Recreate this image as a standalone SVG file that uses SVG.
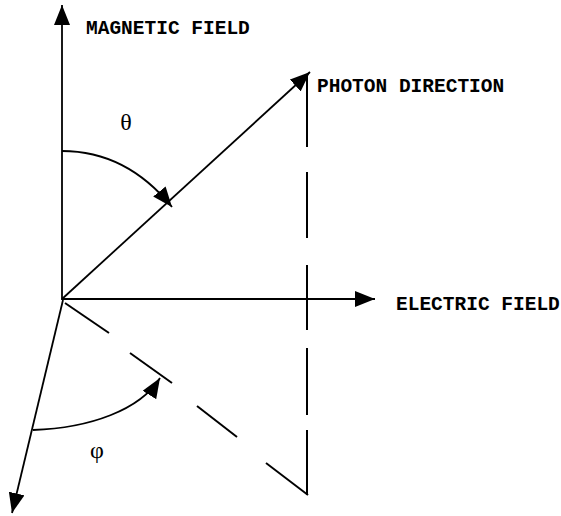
<svg xmlns="http://www.w3.org/2000/svg" width="561" height="516" viewBox="0 0 561 516">
<style>
.ln{stroke:#000;stroke-width:1.8;fill:none}
.ds{stroke:#000;stroke-width:2;fill:none}
.lbl{font-family:"Liberation Mono","Courier New",monospace;font-weight:bold;font-size:19.5px;fill:#000}
.gr{font-family:"Liberation Serif","Times New Roman",serif;font-size:24px;fill:#000}
</style>
<defs>
<marker id="ah" markerUnits="userSpaceOnUse" viewBox="0 0 20 16" refX="20" refY="8" markerWidth="20" markerHeight="16" orient="auto">
<path d="M0,0 L20,8 L0,16 z" fill="#000"/>
</marker>
</defs>
<rect width="561" height="516" fill="#fff"/>
<g id="connectors">
<line class="ln" x1="62" y1="300" x2="62" y2="5" marker-end="url(#ah)"/>
<line class="ln" x1="62" y1="299" x2="375" y2="299" marker-end="url(#ah)"/>
<line class="ln" x1="62" y1="299" x2="310" y2="72" marker-end="url(#ah)"/>
<line class="ln" x1="63" y1="300" x2="12" y2="513" marker-end="url(#ah)"/>
<path class="ln" d="M62,151 C115,151 150,180 172,207" marker-end="url(#ah)"/>
<path class="ln" d="M33,430 C90,428 140,410 160,378" marker-end="url(#ah)"/>
<g id="dashes">
<line class="ds" x1="307" y1="75" x2="307" y2="147"/>
<line class="ds" x1="307" y1="172" x2="307" y2="238"/>
<line class="ds" x1="307" y1="265" x2="307" y2="330"/>
<line class="ds" x1="307" y1="348" x2="307" y2="415"/>
<line class="ds" x1="307" y1="430" x2="307" y2="495"/>
<line class="ds" x1="65" y1="303" x2="109" y2="333"/>
<line class="ds" x1="130" y1="353" x2="172" y2="383"/>
<line class="ds" x1="197" y1="406" x2="237" y2="437"/>
<line class="ds" x1="266" y1="463" x2="308" y2="495"/>
</g>
</g>
<g id="magnetic-field"><text class="lbl" x="86" y="34">MAGNETIC FIELD</text></g>
<g id="photon-direction"><text class="lbl" x="317" y="92">PHOTON DIRECTION</text></g>
<g id="electric-field"><text class="lbl" x="396" y="310">ELECTRIC FIELD</text></g>
<g id="theta"><text class="gr" x="126" y="130" text-anchor="middle">θ</text></g>
<g id="phi"><text class="gr" x="97" y="458" text-anchor="middle">φ</text></g>
</svg>
